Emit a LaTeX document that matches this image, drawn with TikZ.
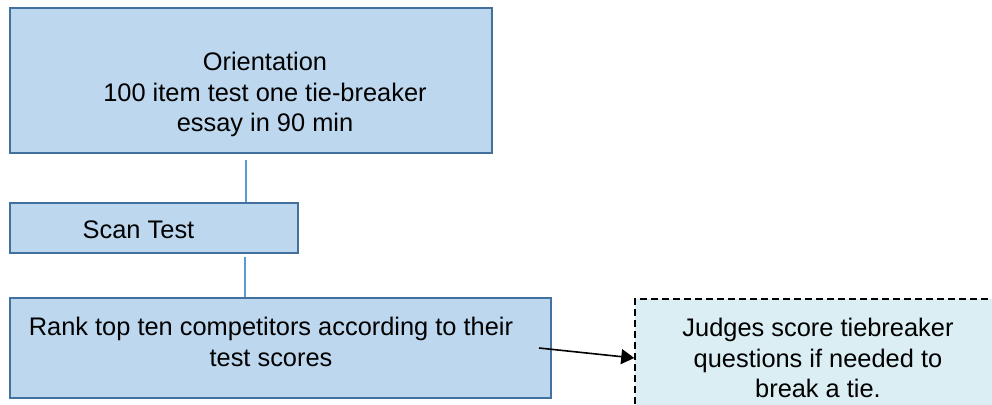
\documentclass[tikz,border=0pt]{standalone}
\usepackage{fontspec}
\setmainfont{Liberation Sans}
\usetikzlibrary{arrows.meta}
\definecolor{boxfill}{RGB}{189,215,238}
\definecolor{boxline}{RGB}{65,113,156}
\definecolor{linkline}{RGB}{91,155,213}
\definecolor{notefill}{RGB}{218,238,243}
\begin{document}
\begin{tikzpicture}[x=0.5pt,y=-0.5pt,
    stepbox/.style={draw=boxline,fill=boxfill,line width=1pt,inner sep=0pt},
    notebox/.style={draw=black,fill=notefill,line width=0.75pt,dash pattern=on 3.5pt off 2pt,inner sep=0pt},
    steptext/.style={align=center,inner sep=0pt,font=\fontsize{12.7}{15.3}\selectfont},
    link/.style={draw=linkline,line width=0.6pt}]
    \clip (0,0) rectangle (992,404);
    \fill[white] (0,0) rectangle (992,404);
    \node[stepbox,minimum width=241pt,minimum height=72.5pt] (orient) at (251,80.5) {};
    \node[stepbox,minimum width=144pt,minimum height=25pt] (scan) at (154,228) {};
    \node[stepbox,minimum width=270.5pt,minimum height=50pt] (rank) at (280.5,348) {};
    \node[notebox,minimum width=182.5pt,minimum height=59pt] (judges) at (817.5,358) {};
    \node[steptext] (orienttext) at (265,94.5) {Orientation\\100 item test one tie-breaker\\essay in 90 min};
    \node[steptext] (scantext) at (138.5,230) {Scan Test};
    \node[steptext] (ranktext) at (271,342) {Rank top ten competitors according to their\\test scores};
    \node[steptext] (judgestext) at (818,358) {Judges score tiebreaker\\questions if needed to\\break a tie.};
    \coordinate (spine) at (246,0);
    \coordinate (spinetwo) at (245,0);
    \coordinate (rankout) at (539,348);
    \draw[link,shorten <=3pt] (orient.south -| spine) -- (scan.north -| spine);
    \draw[link,shorten <=1.5pt] (scan.south -| spinetwo) -- (rank.north -| spinetwo);
    \draw[-{Triangle[length=6.5pt,width=7.5pt]},line width=0.8pt] (rankout) -- (judges.west);
\end{tikzpicture}
\end{document}
